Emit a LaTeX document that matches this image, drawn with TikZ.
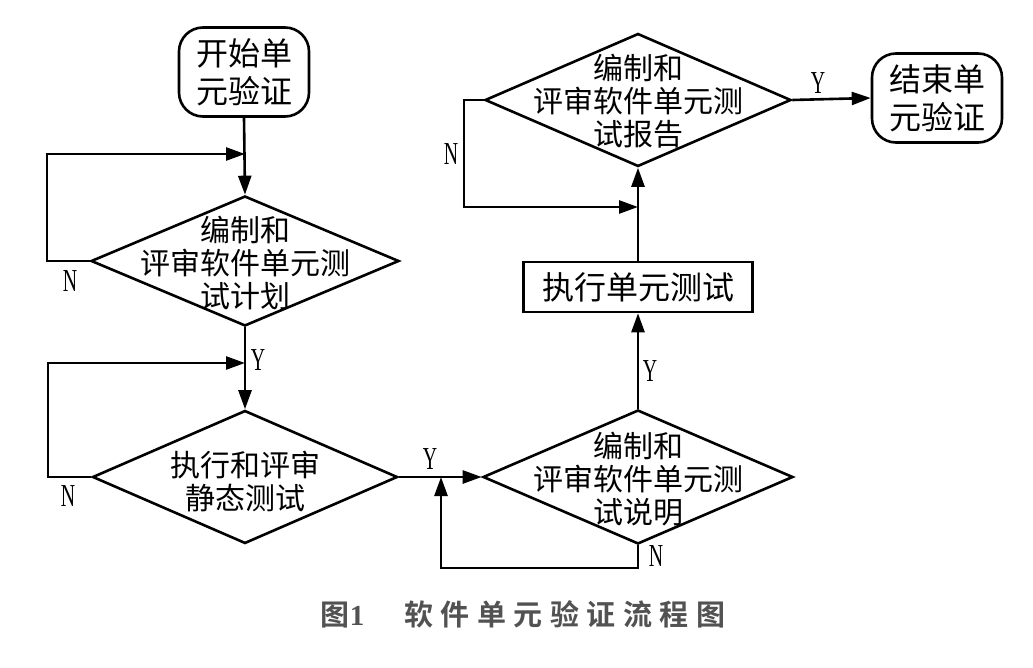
\documentclass[tikz,border=0pt]{standalone}
\usepackage{fontspec}
\usepackage{graphicx}
\usetikzlibrary{shapes.geometric,arrows.meta}
\newfontfamily\cjk{Noto Sans CJK SC}[BoldFont={Noto Sans CJK SC Bold}]
\newfontfamily\latn{Liberation Serif}
\newcommand\ynlab[1]{\scalebox{0.62}[1]{#1}}
\begin{document}
\begin{tikzpicture}[x=1pt,y=-1pt,
  term/.style={draw, line width=2.6pt, rounded corners=24pt, minimum width=130pt, minimum height=89pt, inner sep=0pt, align=center, font=\cjk\fontsize{32}{38}\selectfont},
  dia/.style={draw, diamond, line width=2.6pt, inner sep=0pt},
  dtxt/.style={align=center, inner sep=0pt, font=\cjk\fontsize{30}{33}\selectfont},
  proc/.style={draw, rectangle, line width=2.6pt, minimum width=229pt, minimum height=50pt, inner sep=0pt, font=\cjk\fontsize{32}{38}\selectfont},
  conn/.style={line width=2.6pt, -{Triangle[length=19pt,width=13pt]}},
  lab/.style={inner sep=0pt, font=\latn\fontsize{32}{32}\selectfont},
  captxt/.style={inner sep=0pt, text=black!68, font=\cjk\bfseries\fontsize{29}{30}\selectfont}]
\useasboundingbox (0,0) rectangle (1033,668);
\fill[white] (0,0) rectangle (1033,668);
% nodes
\node[term] (start) at (244,72) {开始单\\元验证};
\node[dia, minimum width=308pt, minimum height=130pt] (d1) at (245,261) {};
\node[dtxt] (d1t) at (245,263) {编制和\\评审软件单元测\\试计划};
\node[dia, minimum width=305pt, minimum height=133pt] (d2) at (245,477) {};
\node[dtxt] (d2t) at (245,481) {执行和评审\\静态测试};
\node[dia, minimum width=310pt, minimum height=134pt] (d3) at (638,477) {};
\node[dtxt] (d3t) at (638,479) {编制和\\评审软件单元测\\试说明};
\node[proc] (exec) at (638,287) {执行单元测试};
\node[dia, minimum width=306pt, minimum height=133pt] (d4) at (638,100) {};
\node[dtxt] (d4t) at (638,101) {编制和\\评审软件单元测\\试报告};
\node[term] (end) at (937,98) {结束单\\元验证};
% junction coordinates
\coordinate (j1) at (245,154);
\coordinate (l1) at (47,261);
\coordinate (j2) at (245,363);
\coordinate (l2) at (48,477);
\coordinate (j3) at (441,477);
\coordinate (l3) at (638,568);
\coordinate (j4) at (638,207);
\coordinate (l4) at (464,100);
% connectors
\draw[conn] (start.south) -- (d1.north);
\draw[conn] (d1.west) -- (l1) |- (j1);
\draw[conn] (d1.south) -- (d2.north);
\draw[conn] (d2.west) -- (l2) |- (j2);
\draw[conn] (d2.east) -- (d3.west);
\draw[conn] (d3.south) -- (l3) -| (j3);
\draw[conn] (d3.north) -- (exec.south);
\draw[conn] (exec.north) -- (d4.south);
\draw[conn] (d4.west) -- (l4) |- (j4);
\draw[conn] (d4.east) -- (end.west);
% labels
\node[lab] (n1) at (70,281) {\ynlab{N}};
\node[lab] (y1) at (258,360) {\ynlab{Y}};
\node[lab] (n2) at (68,496) {\ynlab{N}};
\node[lab] (y2) at (430,459) {\ynlab{Y}};
\node[lab] (n3) at (656,556) {\ynlab{N}};
\node[lab] (y3) at (650,371) {\ynlab{Y}};
\node[lab] (n4) at (451,154) {\ynlab{N}};
\node[lab] (y4) at (818,83) {\ynlab{Y}};
% caption
\node[captxt] (caption) at (523,614) {图{\latn\bfseries 1}\hspace{40pt}软\hspace{7.5pt}件\hspace{7.5pt}单\hspace{7.5pt}元\hspace{7.5pt}验\hspace{7.5pt}证\hspace{7.5pt}流\hspace{7.5pt}程\hspace{7.5pt}图};
\end{tikzpicture}
\end{document}
